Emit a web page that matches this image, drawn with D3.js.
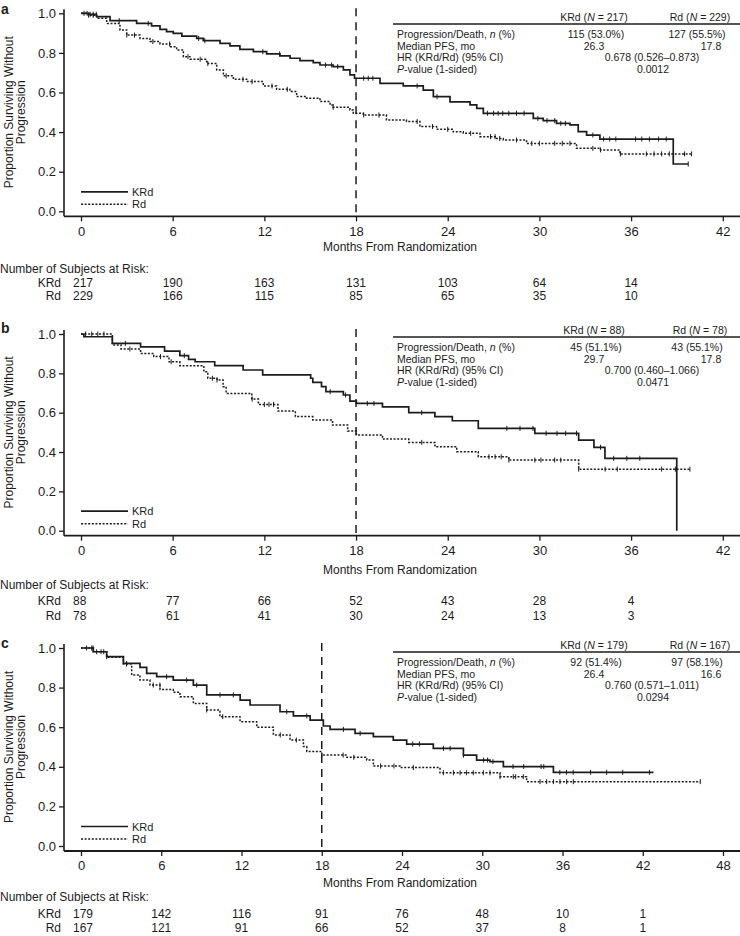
<!DOCTYPE html>
<html><head><meta charset="utf-8">
<script src="https://cdn.jsdelivr.net/npm/d3@7"></script>
<style>body{margin:0;background:#fff}svg{display:block;font-family:"Liberation Sans",Arial,sans-serif}</style>
</head><body><svg id="chart" width="740" height="936"></svg>
<script>
// ---------- DATA ----------
const yTicks = [0, 0.2, 0.4, 0.6, 0.8, 1.0];
const xTicksAB = [0, 6, 12, 18, 24, 30, 36, 42];
const xTicksC = [0, 6, 12, 18, 24, 30, 36, 42, 48];
const seriesNames = ["KRd", "Rd"];
const statLabels = ["Progression/Death, n (%)", "Median PFS, mo", "HR (KRd/Rd) (95% CI)", "P-value (1-sided)"];

// Panel a
const aKRd = [[0,1],[0.5,0.995],[1.02,0.983],[1.9,0.963],[3.64,0.949],[4.62,0.936],[5.17,0.919],[5.6,0.907],[6.04,0.899],[6.6,0.885],[7.57,0.873],[8.0,0.862],[9.1,0.848],[9.75,0.835],[10.4,0.818],[11.28,0.806],[12.15,0.795],[13.02,0.785],[13.68,0.773],[14.33,0.761],[15.2,0.751],[15.64,0.739],[16.5,0.731],[17.17,0.714],[17.6,0.689],[17.9,0.672],[19.57,0.646],[21.09,0.633],[22.4,0.612],[23.06,0.579],[24.15,0.553],[25.46,0.537],[25.9,0.52],[26.33,0.495],[29.6,0.469],[30.25,0.458],[31.12,0.444],[32.0,0.436],[32.54,0.402],[33.09,0.385],[33.96,0.365],[38.76,0.239],[39.74,0.239]];
const aRd = [[0,1],[0.5,0.99],[1.03,0.975],[1.68,0.949],[2.55,0.916],[2.99,0.89],[3.86,0.873],[4.51,0.857],[5.17,0.845],[5.82,0.831],[6.26,0.815],[6.7,0.781],[7.13,0.768],[8.22,0.747],[8.88,0.714],[9.32,0.684],[9.97,0.667],[10.84,0.655],[11.93,0.633],[12.8,0.616],[13.67,0.605],[14.11,0.58],[14.76,0.571],[15.64,0.554],[16.3,0.537],[16.5,0.525],[17.6,0.512],[17.82,0.495],[18.47,0.486],[19.99,0.461],[21.3,0.453],[22.18,0.428],[23.27,0.414],[24.36,0.402],[25.02,0.394],[26.11,0.377],[27.2,0.368],[27.64,0.36],[29.16,0.343],[32.43,0.318],[34.0,0.31],[35.27,0.29],[39.96,0.29]];
const aKRdCens = [0.2,0.4,0.6,0.8,1.0,2.5,4.4,7.7,8.1,11.9,13.0,16.0,16.4,16.8,18.5,18.8,19.1,22.0,23.3,26.6,27.0,27.3,27.6,28.0,28.5,29.0,29.9,30.5,31.0,31.4,31.7,33.5,34.2,34.6,35.0,36.3,36.7,37.2,37.8,38.3,39.74];
const aRdCens = [0.5,0.8,3.0,3.5,4.7,5.8,7.0,7.8,8.3,9.5,10.6,11.2,12.5,13.5,16.5,18.5,19.5,22.0,23.0,24.0,25.5,26.8,27.1,27.4,28.5,29.5,30.0,31.0,31.5,32.0,33.5,34.0,35.3,37.0,37.5,38.0,38.5,39.5,39.96];
const aRiskKRd = [217, 190, 163, 131, 103, 64, 14];
const aRiskRd = [229, 166, 115, 85, 65, 35, 10];
const aStatKRd = ["217", "115 (53.0%)", "26.3"];
const aStatRd = ["229", "127 (55.5%)", "17.8"];
const aStatBoth = ["0.678 (0.526\u20130.873)", "0.0012"];

// Panel b
const bKRd = [[0,1],[0.19,0.986],[2.05,0.952],[3.9,0.935],[5.47,0.913],[6.47,0.89],[7.04,0.871],[7.47,0.859],[8.75,0.839],[10.61,0.817],[11.89,0.792],[15.03,0.775],[15.17,0.754],[15.74,0.732],[16.03,0.707],[17.17,0.69],[17.6,0.659],[18.02,0.647],[19.73,0.63],[21.45,0.6],[23.16,0.58],[24.3,0.559],[26.0,0.52],[29.7,0.495],[32.57,0.46],[33.57,0.424],[34.29,0.368],[38.99,0]];
const bRd = [[0,1],[2.05,0.944],[2.62,0.924],[3.9,0.901],[4.76,0.885],[5.76,0.859],[6.47,0.839],[8.04,0.808],[8.3,0.775],[8.9,0.766],[9.3,0.732],[9.5,0.698],[11.18,0.669],[11.61,0.642],[12.89,0.608],[14.03,0.58],[15.17,0.563],[16.46,0.537],[17.45,0.507],[18.02,0.487],[19.73,0.466],[21.45,0.449],[23.16,0.427],[24.59,0.402],[26.0,0.376],[28.0,0.359],[32.57,0.313],[39.85,0.313]];
const bKRdCens = [2.9,6.76,16.31,17.31,18.74,19.17,22.3,27.87,28.73,29.58,30.44,31.15,31.72,32.43,34.0,34.86,35.72,36.57];
const bRdCens = [0.3,0.7,1.1,1.5,3.2,5.2,5.9,8.6,8.9,11.2,12.0,12.3,12.6,22.3,26.7,27.1,27.5,28.0,29.7,30.1,31.0,31.4,32.57,34.3,35.1,38.0,38.9,39.85];
const bRiskKRd = [88, 77, 66, 52, 43, 28, 4];
const bRiskRd = [78, 61, 41, 30, 24, 13, 3];
const bStatKRd = ["88", "45 (51.1%)", "29.7"];
const bStatRd = ["78", "43 (55.1%)", "17.8"];
const bStatBoth = ["0.700 (0.460\u20131.066)", "0.0471"];

// Panel c
const cKRd = [[0,1],[0.92,0.981],[1.92,0.956],[3.17,0.922],[4.41,0.902],[4.91,0.872],[5.66,0.855],[6.9,0.838],[8.4,0.813],[9.4,0.763],[11.9,0.737],[12.64,0.712],[14.88,0.678],[15.88,0.657],[17.13,0.636],[18.12,0.606],[18.62,0.589],[20.49,0.569],[21.86,0.552],[23.35,0.535],[24.35,0.515],[26.34,0.493],[28.59,0.459],[29.58,0.434],[30.58,0.426],[31.58,0.401],[35.32,0.372],[42.8,0.372]];
const cRd = [[0,1],[0.92,0.981],[1.92,0.953],[3.17,0.919],[3.79,0.864],[4.41,0.838],[5.16,0.813],[5.91,0.791],[6.9,0.776],[7.4,0.754],[8.4,0.72],[9.4,0.687],[10.39,0.653],[11.89,0.628],[13.14,0.6],[14.38,0.561],[15.63,0.535],[16.63,0.502],[16.88,0.477],[18.0,0.459],[19.87,0.448],[21.36,0.434],[21.86,0.404],[23.85,0.396],[26.84,0.37],[31.33,0.35],[33.32,0.325],[46.3,0.325]];
const cKRdCens = [0.42,0.8,1.17,1.5,1.92,3.41,6.4,7.9,8.65,10.39,11.39,15.38,16.88,19.62,20.87,24.8,25.3,27.1,27.6,28.6,30.1,30.4,30.8,32.3,33.1,34.4,34.6,35.8,36.3,36.8,38.1,39.3,40.5,42.5];
const cRdCens = [0.9,1.7,3.4,5.4,5.9,9.4,10.6,14.9,16.1,18.0,19.6,20.4,22.4,23.4,24.85,27.09,27.84,28.34,28.83,29.33,30.08,30.58,31.33,32.32,32.5,33.07,34.32,34.82,35.32,35.81,36.31,36.81,46.3];
const cRiskKRd = [179, 142, 116, 91, 76, 48, 10, 1];
const cRiskRd = [167, 121, 91, 66, 52, 37, 8, 1];
const cStatKRd = ["179", "92 (51.4%)", "26.4"];
const cStatRd = ["167", "97 (58.1%)", "16.6"];
const cStatBoth = ["0.760 (0.571\u20131.011)", "0.0294"];

// ---------- DRAWING ----------
const svg = d3.select("#chart");
const ink = "#1c1c1c";
const FS = 12, TFS = 10.5, LFS = 11;

function survAt(series, t) {
  let s = series[0][1];
  for (const p of series) { if (p[0] <= t) s = p[1]; else break; }
  return s;
}

function panel(o) {
  const x = d3.scaleLinear().domain([0, o.xMax]).range([81, 81 + o.xMax * o.pxPerMonth]);
  const y = d3.scaleLinear().domain([0, 1]).range([o.y0, o.y1]);
  const axY = o.y0 + 5;
  const g = svg.append("g");

  // panel letter
  g.append("text").attr("x", 1).attr("y", o.letterY).attr("font-size", 14).attr("font-weight", "bold")
    .attr("fill", ink).text(o.letter);

  // y axis
  const ya = g.append("g").attr("transform", "translate(64,0)")
    .call(d3.axisLeft(y).tickValues(yTicks).tickFormat(d3.format(".1f")).tickSize(5).tickSizeOuter(0).tickPadding(3));
  ya.select(".domain").remove();
  ya.selectAll(".tick line").attr("stroke", ink).attr("stroke-width", 1.3);
  ya.selectAll(".tick text").attr("font-size", 13).attr("fill", ink).attr("font-family", "Liberation Sans, Arial, sans-serif");
  g.append("line").attr("x1", 64).attr("x2", 64).attr("y1", o.y1 - 4).attr("y2", axY)
    .attr("stroke", ink).attr("stroke-width", 1.6);

  // x axis
  const xa = g.append("g").attr("transform", `translate(0,${axY})`)
    .call(d3.axisBottom(x).tickValues(o.xTicks).tickSize(5).tickSizeOuter(0).tickPadding(5));
  xa.select(".domain").remove();
  xa.selectAll(".tick line").attr("stroke", ink).attr("stroke-width", 1.3);
  xa.selectAll(".tick text").attr("font-size", 13).attr("fill", ink).attr("font-family", "Liberation Sans, Arial, sans-serif");
  g.append("line").attr("x1", 64).attr("x2", 740).attr("y1", axY).attr("y2", axY)
    .attr("stroke", ink).attr("stroke-width", 1.8);

  // y label
  const yc = (o.y0 + o.y1) / 2;
  g.append("text").attr("transform", `translate(9,${yc}) rotate(-90)`).attr("text-anchor", "middle")
    .attr("dominant-baseline", "central").attr("font-size", FS).attr("fill", ink).text("Proportion Surviving Without");
  g.append("text").attr("transform", `translate(21,${yc}) rotate(-90)`).attr("text-anchor", "middle")
    .attr("dominant-baseline", "central").attr("font-size", FS).attr("fill", ink).text("Progression");

  // x label
  g.append("text").attr("x", 400).attr("y", o.monthsY).attr("text-anchor", "middle").attr("dominant-baseline", "central")
    .attr("font-size", FS).attr("fill", ink).text("Months From Randomization");

  // 18-month reference line
  g.append("line").attr("x1", x(18)).attr("x2", x(18)).attr("y1", o.y1 - 5).attr("y2", axY)
    .attr("stroke", ink).attr("stroke-width", 1.5).attr("stroke-dasharray", "8,6");

  // curves
  const line = d3.line().x(d => x(d[0])).y(d => y(d[1])).curve(d3.curveStepAfter);
  const curves = [
    {data: o.krd, cens: o.krdC, dash: null, w: 1.7},
    {data: o.rd, cens: o.rdC, dash: "2,1.6", w: 1.5}
  ];
  curves.forEach(c => {
    g.append("path").datum(c.data).attr("d", line).attr("fill", "none").attr("stroke", ink)
      .attr("stroke-width", c.w).attr("stroke-dasharray", c.dash);
    g.selectAll(null).data(c.cens).enter().append("line")
      .attr("x1", d => x(d)).attr("x2", d => x(d))
      .attr("y1", d => y(survAt(c.data, d)) - 2.5).attr("y2", d => y(survAt(c.data, d)) + 2.5)
      .attr("stroke", ink).attr("stroke-width", 1);
  });

  // legend
  const ly1 = o.y0 - 19.5, ly2 = o.y0 - 7;
  g.append("line").attr("x1", 81).attr("x2", 128).attr("y1", ly1).attr("y2", ly1).attr("stroke", ink).attr("stroke-width", 1.7);
  g.append("line").attr("x1", 81).attr("x2", 128).attr("y1", ly2).attr("y2", ly2).attr("stroke", ink).attr("stroke-width", 1.5).attr("stroke-dasharray", "2,1.6");
  g.append("text").attr("x", 132).attr("y", ly1).attr("dominant-baseline", "central").attr("font-size", LFS).attr("fill", ink).text(seriesNames[0]);
  g.append("text").attr("x", 132).attr("y", ly2).attr("dominant-baseline", "central").attr("font-size", LFS).attr("fill", ink).text(seriesNames[1]);

  // stats table
  const L = o.tableLineY;
  g.append("line").attr("x1", 393).attr("x2", 740).attr("y1", L).attr("y2", L).attr("stroke", ink).attr("stroke-width", 1.6);
  const hdr = (cx, name, n) => {
    const t = g.append("text").attr("x", cx).attr("y", L - 7).attr("text-anchor", "middle").attr("dominant-baseline", "central")
      .attr("font-size", TFS).attr("fill", ink);
    t.append("tspan").text(name + " (");
    t.append("tspan").attr("font-style", "italic").text("N");
    t.append("tspan").text(" = " + n + ")");
  };
  hdr(594, seriesNames[0], o.statKRd[0]);
  hdr(700, seriesNames[1], o.statRd[0]);
  const rowY = i => L + 10 + i * 11.6;
  statLabels.forEach((lab, i) => {
    const t = g.append("text").attr("x", 397).attr("y", rowY(i)).attr("dominant-baseline", "central")
      .attr("font-size", TFS).attr("fill", ink);
    if (i === 0) {
      t.append("tspan").text("Progression/Death, ");
      t.append("tspan").attr("font-style", "italic").text("n");
      t.append("tspan").text(" (%)");
    } else if (i === 3) {
      t.append("tspan").attr("font-style", "italic").text("P");
      t.append("tspan").text("-value (1-sided)");
    } else t.text(lab);
  });
  const val = (cx, yy, s) => g.append("text").attr("x", cx).attr("y", yy).attr("text-anchor", "middle")
    .attr("dominant-baseline", "central").attr("font-size", TFS).attr("fill", ink).text(s);
  val(596, rowY(0), o.statKRd[1]);
  val(697, rowY(0), o.statRd[1]);
  val(594, rowY(1), o.statKRd[2]);
  val(711, rowY(1), o.statRd[2]);
  val(652, rowY(2), o.statBoth[0]);
  val(653, rowY(3), o.statBoth[1]);

  // at-risk table
  g.append("text").attr("x", 0).attr("y", o.riskY[0]).attr("dominant-baseline", "central").attr("font-size", FS).attr("fill", ink)
    .text("Number of Subjects at Risk:");
  [[seriesNames[0], o.riskKRd, o.riskY[1]], [seriesNames[1], o.riskRd, o.riskY[2]]].forEach(([nm, vals, yy]) => {
    g.append("text").attr("x", 61).attr("y", yy).attr("text-anchor", "end").attr("dominant-baseline", "central")
      .attr("font-size", FS).attr("fill", ink).text(nm);
    g.selectAll(null).data(vals).enter().append("text")
      .attr("x", (d, i) => i === 0 ? 73 : x(o.xTicks[i]))
      .attr("y", yy).attr("text-anchor", (d, i) => i === 0 ? "start" : "middle").attr("dominant-baseline", "central")
      .attr("font-size", FS).attr("fill", ink).text(d => d);
  });
}

panel({letter: "a", letterY: 14, xMax: 42, pxPerMonth: 15.28, xTicks: xTicksAB, y0: 211.3, y1: 13.3,
  krd: aKRd, rd: aRd, krdC: aKRdCens, rdC: aRdCens, monthsY: 247, tableLineY: 24,
  statKRd: aStatKRd, statRd: aStatRd, statBoth: aStatBoth, riskKRd: aRiskKRd, riskRd: aRiskRd, riskY: [269, 283, 296]});
panel({letter: "b", letterY: 333, xMax: 42, pxPerMonth: 15.28, xTicks: xTicksAB, y0: 530.7, y1: 334,
  krd: bKRd, rd: bRd, krdC: bKRdCens, rdC: bRdCens, monthsY: 570, tableLineY: 337,
  statKRd: bStatKRd, statRd: bStatRd, statBoth: bStatBoth, riskKRd: bRiskKRd, riskRd: bRiskRd, riskY: [585, 601, 616]});
panel({letter: "c", letterY: 648, xMax: 48, pxPerMonth: 13.375, xTicks: xTicksC, y0: 846, y1: 648,
  krd: cKRd, rd: cRd, krdC: cKRdCens, rdC: cRdCens, monthsY: 883, tableLineY: 652,
  statKRd: cStatKRd, statRd: cStatRd, statBoth: cStatBoth, riskKRd: cRiskKRd, riskRd: cRiskRd, riskY: [897, 914, 928]});
</script></body></html>
